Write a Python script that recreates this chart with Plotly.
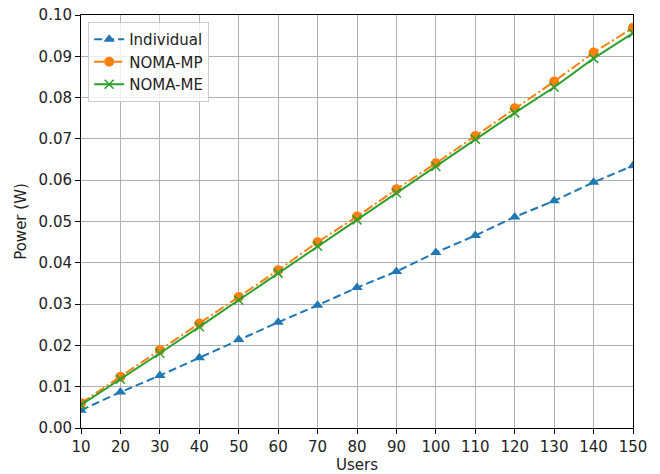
import plotly.graph_objects as go

users = [10, 20, 30, 40, 50, 60, 70, 80, 90, 100, 110, 120, 130, 140, 150]
individual = [0.0043, 0.0087, 0.0127, 0.0170, 0.0214, 0.0256, 0.0297, 0.0340, 0.0379, 0.0425, 0.0466, 0.0511, 0.0550, 0.0595, 0.0635]
noma_mp = [0.0060, 0.0124, 0.0189, 0.0253, 0.0317, 0.0382, 0.0450, 0.0512, 0.0578, 0.0641, 0.0707, 0.0774, 0.0839, 0.0909, 0.0969]
noma_me = [0.0056, 0.0118, 0.0181, 0.0245, 0.0310, 0.0375, 0.0440, 0.0504, 0.0569, 0.0633, 0.0699, 0.0763, 0.0825, 0.0895, 0.0956]

x_ticks = list(range(10, 151, 10))
y_ticks = [i / 100 for i in range(0, 11)]
y_tick_labels = [f"{v:.2f}" for v in y_ticks]

FONT = "DejaVu Sans"
FS = 15

fig = go.Figure()
fig.add_trace(go.Scatter(x=users, y=individual, name="Individual", mode="lines+markers",
                         line=dict(color="#1f77b4", width=2, dash="8px,4px"),
                         marker=dict(symbol="triangle-up", size=10, color="#1f77b4")))
fig.add_trace(go.Scatter(x=users, y=noma_mp, name="NOMA-MP", mode="lines+markers",
                         line=dict(color="#ff7f0e", width=2, dash="10px,3px,2px,3px"),
                         marker=dict(symbol="circle", size=10, color="#ff7f0e")))
fig.add_trace(go.Scatter(x=users, y=noma_me, name="NOMA-ME", mode="lines+markers",
                         line=dict(color="#2ca02c", width=2),
                         marker=dict(symbol="x-thin", size=9, color="#2ca02c",
                                     line=dict(color="#2ca02c", width=1.5))))

axis_common = dict(showline=True, linecolor="black", linewidth=1, mirror=True,
                   ticks="outside", ticklen=5, tickcolor="black",
                   showgrid=True, gridcolor="#b0b0b0", gridwidth=1, zeroline=False,
                   automargin=False,
                   tickfont=dict(family=FONT, size=FS, color="#222222"))

fig.update_xaxes(range=[10, 150], tickvals=x_ticks,
                 title=dict(text="Users", font=dict(family=FONT, size=FS, color="#222222"), standoff=2),
                 **axis_common)
fig.update_yaxes(range=[0, 0.10], tickvals=y_ticks, ticktext=y_tick_labels,
                 title=dict(text="Power (W)", font=dict(family=FONT, size=FS, color="#222222"), standoff=8),
                 **axis_common)

fig.update_layout(
    width=660, height=474,
    margin=dict(l=81, r=27, t=15, b=46),
    paper_bgcolor="white", plot_bgcolor="white",
    font=dict(family=FONT, size=FS, color="#222222"),
    legend=dict(x=0.013, y=0.983, xanchor="left", yanchor="top",
                bgcolor="rgba(255,255,255,0.8)", bordercolor="#cccccc", borderwidth=1,
                font=dict(family=FONT, size=FS, color="#222222"),
                tracegroupgap=0, itemwidth=30),
    showlegend=True,
)

fig.write_html("out.html")
